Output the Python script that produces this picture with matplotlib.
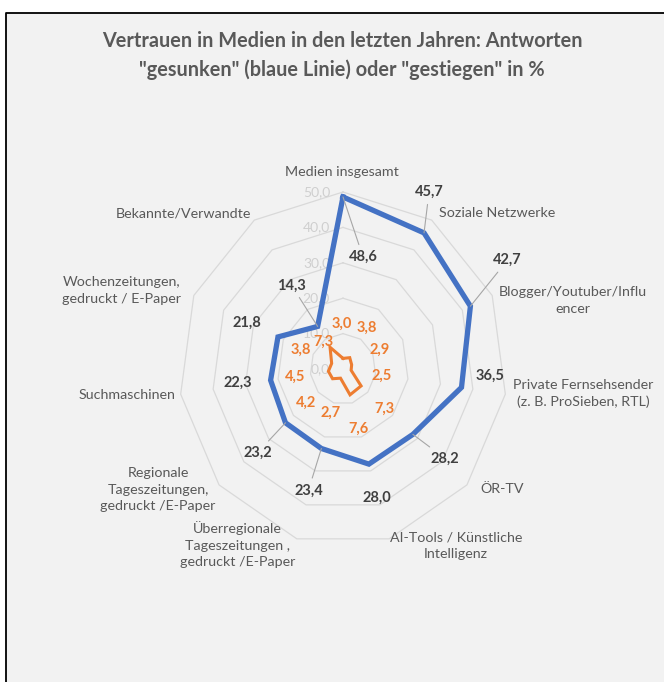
import numpy as np
import matplotlib

matplotlib.use("Agg")
import matplotlib.pyplot as plt
from matplotlib.lines import Line2D
from matplotlib.patches import Rectangle

plt.rcParams["font.family"] = ["Lato", "DejaVu Sans"]

DPI = 100

TITLE = (
    "Vertrauen in Medien in den letzten Jahren: Antworten\n"
    "\"gesunken\" (blaue Linie) oder \"gestiegen\" in %"
)

CATEGORIES = [
    "Medien insgesamt",
    "Soziale Netzwerke",
    "Blogger/Youtuber/Influ\nencer",
    "Private Fernsehsender\n(z. B. ProSieben, RTL)",
    "ÖR-TV",
    "AI-Tools / Künstliche\nIntelligenz",
    "Überregionale\nTageszeitungen ,\ngedruckt /E-Paper",
    "Regionale\nTageszeitungen,\ngedruckt /E-Paper",
    "Suchmaschinen",
    "Wochenzeitungen,\ngedruckt / E-Paper",
    "Bekannte/Verwandte",
]

# "gesunken" (blue) and "gestiegen" (orange), in %
SUNKEN = [48.6, 45.7, 42.7, 36.5, 28.2, 28.0, 23.4, 23.2, 22.3, 21.8, 14.3]
RISEN = [3.0, 3.8, 2.9, 2.5, 7.3, 7.6, 2.7, 4.2, 4.5, 3.8, 7.3]

RING_LEVELS = [0, 10, 20, 30, 40, 50]

# label placement, pixel offsets (x right, y down) from the anchor point
CAT_OFFSETS = [(-1, -20), (65, -7), (81, 5), (78, -1), (35, 4), (67, 7),
               (-59, 6), (-61, 5), (-54, 1), (-72, -5), (-71, -7)]
SUNKEN_OFFSETS = [(20, 60), (5, -41), (37, -46), (29, -12), (32, 24), (8, 34),
                  (-13, 42), (-28, 30), (-33, 3), (-31, -14), (-26, -41)]
RISEN_OFFSETS = [(-1, -35), (17, -30), (28, -15), (31, 6), (23, 23), (8, 34),
                 (-10, 35), (-27, 24), (-33, 6), (-31, -14), (-7, -5)]

BLUE = "#4472C4"
ORANGE = "#ED7D31"
TEXT_GREY = "#595959"
VALUE_DARK = "#404040"
GRID = "#d9d9d9"
BG = "#f2f2f2"


def fmt(v: float) -> str:
    return f"{v:.1f}".replace(".", ",")


def px(off):
    return (off[0] * 72.0 / DPI, -off[1] * 72.0 / DPI)


def main() -> None:
    fig = plt.figure(figsize=(6.64, 6.82), dpi=DPI, facecolor="white")

    # chart area: grey fill, frame only visible on top and left (cropped screenshot)
    x0 = 6 / 664
    y1 = 1 - 13 / 682
    fig.patches.append(
        Rectangle((x0, 0), 1 - x0, y1, transform=fig.transFigure,
                  facecolor=BG, edgecolor="none", zorder=-5)
    )
    fig.add_artist(Line2D([x0, x0, 1.0], [0, y1, y1], transform=fig.transFigure,
                          color="black", lw=1.3, zorder=-4))

    fig.text(0.515, 0.918, TITLE, ha="center", va="center", fontsize=14.3,
             fontweight="bold", color=TEXT_GREY, linespacing=1.5)

    n = len(CATEGORIES)
    angles = np.linspace(0, 2 * np.pi, n, endpoint=False)
    closed = np.append(angles, angles[0])

    ax = fig.add_axes([(343 - 164) / 664, 1 - (369 + 177) / 682,
                       328 / 664, 354 / 682], projection="polar")
    ax.set_theta_zero_location("N")
    ax.set_theta_direction(-1)
    ax.set_aspect("auto")
    ax.set_ylim(0, 50)
    ax.set_facecolor("none")
    ax.grid(False)
    ax.set_xticks([])
    ax.set_yticks([])
    ax.spines["polar"].set_visible(False)

    for level in RING_LEVELS[1:]:
        ax.plot(closed, [level] * (n + 1), color=GRID, lw=0.9,
                clip_on=False, zorder=1)
    for level in RING_LEVELS:
        ax.annotate(fmt(level), xy=(0, level), xytext=px((-13, 0)),
                    textcoords="offset points", ha="right", va="center",
                    fontsize=10, color="#cfcfcf", zorder=2)

    ax.plot(closed, SUNKEN + SUNKEN[:1], color=BLUE, lw=3.8,
            solid_joinstyle="miter", clip_on=False, zorder=4)
    ax.plot(closed, RISEN + RISEN[:1], color=ORANGE, lw=2.2,
            solid_joinstyle="miter", clip_on=False, zorder=4)

    for ang, name, off in zip(angles, CATEGORIES, CAT_OFFSETS):
        ax.annotate(name, xy=(ang, 50), xytext=px(off),
                    textcoords="offset points", ha="center", va="center",
                    multialignment="center", fontsize=10.3, color=TEXT_GREY,
                    linespacing=1.45, annotation_clip=False)

    for ang, v, off in zip(angles, SUNKEN, SUNKEN_OFFSETS):
        arrow = None
        if np.hypot(*off) > 36:
            arrow = dict(arrowstyle="-", color="#a6a6a6", lw=0.8,
                         shrinkA=2, shrinkB=0)
        ax.annotate(fmt(v), xy=(ang, v), xytext=px(off),
                    textcoords="offset points", ha="center", va="center",
                    fontsize=10.5, fontweight="bold", color=VALUE_DARK,
                    arrowprops=arrow, annotation_clip=False, zorder=5)

    for ang, v, off in zip(angles, RISEN, RISEN_OFFSETS):
        ax.annotate(fmt(v), xy=(ang, v), xytext=px(off),
                    textcoords="offset points", ha="center", va="center",
                    fontsize=10.5, fontweight="bold", color=ORANGE,
                    annotation_clip=False, zorder=5)

    fig.savefig("out.png", dpi=DPI)
    plt.close(fig)


if __name__ == "__main__":
    main()
